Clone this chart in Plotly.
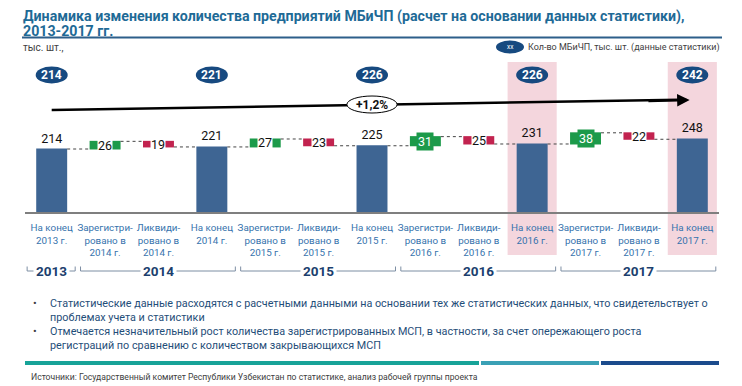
import plotly.graph_objects as go

# ---------------- data ----------------
categories = [
    "На конец<br>2013 г.", "Зарегистри-<br>ровано в<br>2014 г.", "Ликвиди-<br>ровано в<br>2014 г.",
    "На конец<br>2014 г.", "Зарегистри-<br>ровано в<br>2015 г.", "Ликвиди-<br>ровано в<br>2015 г.",
    "На конец<br>2015 г.", "Зарегистри-<br>ровано в<br>2016 г.", "Ликвиди-<br>ровано в<br>2016 г.",
    "На конец<br>2016 г.", "Зарегистри-<br>ровано в<br>2017 г.", "Ликвиди-<br>ровано в<br>2017 г.",
    "На конец<br>2017 г.",
]
values = [214, 26, -19, 221, 27, -23, 225, 31, -25, 231, 38, -22, 248]
measures = ["absolute", "relative", "relative"] * 4 + ["absolute"]
stat_idx = [0, 3, 6, 9, 12]              # categories with statistics bubbles
stat_values = [214, 221, 226, 226, 242]  # кол-во МБиЧП (данные статистики)
highlight_idx = [9, 12]
big_labels = [31, 38]                    # deltas shown in filled boxes
year_groups = [("2013", 0, 0), ("2014", 1, 3), ("2015", 4, 6), ("2016", 7, 9), ("2017", 10, 12)]
growth_label = "+1,2%"

title_lines = ["Динамика изменения количества предприятий МБиЧП (расчет на основании данных статистики),",
               "2013-2017 гг."]
unit_label = "тыс. шт.,"
legend_label = "Кол-во МБиЧП, тыс. шт. (данные статистики)"
bullets = [
    ["Статистические данные расходятся с расчетными данными на основании тех же статистических данных, что свидетельствует о",
     "проблемах учета и статистики"],
    ["Отмечается незначительный рост количества зарегистрированных МСП, в частности, за счет опережающего роста",
     "регистраций по сравнению с количеством закрывающихся МСП"],
]
source_text = "Источники: Государственный комитет Республики Узбекистан по статистике, анализ рабочей группы проекта"

# ---------------- styling / layout helpers ----------------
W, H = 742, 386
ML, MR, MT, MB = 25, 23, 60, 174
PW, PH = W - ML - MR, H - MT - MB
BLUE = "#3e6593"
GREEN = "#1c9a4a"
RED = "#c2234f"
NAVY = "#174a80"
LABEL_BLUE = "#3673ad"
TXT_DARK = "#1f4e79"
FONT = "Roboto"


def py(p):
    return (H - MB - p) / PH


def px(p):
    return (p - ML) / PW


text_labels = [str(v) if m == "absolute" else "" for v, m in zip(values, measures)]

fig = go.Figure(go.Waterfall(
    x=categories, y=values, measure=measures,
    text=text_labels, textposition="outside",
    textfont=dict(size=12.5, color="#111111", family=FONT),
    width=0.58,
    increasing=dict(marker=dict(color=GREEN)),
    decreasing=dict(marker=dict(color=RED)),
    totals=dict(marker=dict(color=BLUE)),
    connector=dict(mode="between", line=dict(color="#444444", width=1, dash="dot")),
    cliponaxis=False, hoverinfo="skip",
))

shapes = []
annotations = []


def note(x, y, text, size, color, xref="paper", yref="paper", xanchor="center", family=FONT, **kw):
    annotations.append(dict(x=x, y=y, xref=xref, yref=yref, text=text, showarrow=False,
                            xanchor=xanchor, yanchor="middle",
                            font=dict(size=size, color=color, family=family), **kw))


# highlight columns
for i in highlight_idx:
    shapes.append(dict(type="rect", xref="x", yref="paper", x0=i - 0.46, x1=i + 0.46,
                       y0=py(255), y1=py(62), fillcolor="#f4d6dd", line=dict(width=0), layer="below"))

# delta labels
level = 0
for i, (v, m) in enumerate(zip(values, measures)):
    if m == "absolute":
        level = v
        continue
    mid = level + v / 2
    level += v
    big = abs(v) in big_labels
    note(i, mid, str(abs(v)), 12.5, "white" if big else "#111111", xref="x", yref="y",
         bgcolor=GREEN if big else "white", borderpad=1 if big else 0)

# statistics bubbles
for i, sv in zip(stat_idx, stat_values):
    shapes.append(dict(type="circle", xref="x", yref="paper", x0=i - 0.3, x1=i + 0.3,
                       y0=py(83.5), y1=py(66.5), fillcolor=NAVY, line=dict(width=0)))
    note(i, py(75), f"<b>{sv}</b>", 12, "white", xref="x")

# growth arrow: line shape + arrowhead annotation, ellipse label on top
x_tail, x_tip = stat_idx[0], stat_idx[-1] - 0.05
y_tail, y_tip = py(110), py(100)
shapes.append(dict(type="line", xref="x", yref="paper", x0=x_tail, y0=y_tail, x1=x_tip - 0.2, y1=y_tip + 0.3 / 152,
                   line=dict(color="black", width=2.5)))
annotations.append(dict(x=x_tip, y=y_tip, xref="x", yref="paper", ax=x_tip - 0.8, axref="x",
                        ay=1, ayref="pixel", text="", showarrow=True, arrowhead=2,
                        arrowsize=1, arrowwidth=2.5, arrowcolor="black"))
mid_x = stat_idx[2]
shapes.append(dict(type="circle", xref="x", yref="paper", x0=mid_x - 0.47, x1=mid_x + 0.47,
                   y0=py(113), y1=py(96), fillcolor="white", line=dict(color="black", width=1)))
note(mid_x, py(104.5), f"<b>{growth_label}</b>", 12, "#111111", xref="x")

# year brackets
for name, i0, i1 in year_groups:
    xa, xb = i0 - 0.46, i1 + 0.44
    yl, yt = py(271), py(266.5)
    for seg in [(xa, yl, xb, yl), (xa, yl, xa, yt), (xb, yl, xb, yt)]:
        shapes.append(dict(type="line", xref="x", yref="paper", x0=seg[0], y0=seg[1],
                           x1=seg[2], y1=seg[3], line=dict(color="#7d8ea3", width=1)))
    note((i0 + i1) / 2, py(271), f"<b>{name}</b>", 13.5, "#1c3f6e", xref="x", bgcolor="white", borderpad=2)

# title
for k, line in enumerate(title_lines):
    note(px(21), py(16 + 15 * k), f"<b>{line}</b>", 14.2, "#1e6a96", xanchor="left")
shapes.append(dict(type="line", xref="paper", yref="paper", x0=px(22), x1=px(722), y0=py(37.5), y1=py(37.5),
                   line=dict(color="#2d5f8a", width=2)))

# unit and legend
note(px(21), py(47), unit_label, 10, "#404040", xanchor="left")
shapes.append(dict(type="circle", xref="paper", yref="paper", x0=px(496), x1=px(524), y0=py(53.5), y1=py(40.5),
                   fillcolor=NAVY, line=dict(width=0)))
note(px(510), py(47), "xx", 6.5, "white")
note(px(526), py(47), legend_label, 9, "#404040", xanchor="left")

# bullets
ys = [[303, 317], [331, 345]]
for lines, yy in zip(bullets, ys):
    note(px(35), py(yy[0]), "•", 11, "#404040")
    for line, y in zip(lines, yy):
        note(px(48), py(y), line, 10.8, TXT_DARK, xanchor="left")

# bottom decorative bars
for x0, x1, c in [(25, 479, "#17a398"), (481, 599, "#3aa0b5"), (601, 719, "#1b4b8c")]:
    shapes.append(dict(type="rect", xref="paper", yref="paper", x0=px(x0), x1=px(x1), y0=py(365), y1=py(361),
                       fillcolor=c, line=dict(width=0)))
note(px(29), py(377), source_text, 8.6, "#404040", xanchor="left")

fig.update_layout(
    width=W, height=H, margin=dict(l=ML, r=MR, t=MT, b=MB, autoexpand=False),
    paper_bgcolor="white", plot_bgcolor="rgba(0,0,0,0)",
    showlegend=False, shapes=shapes, annotations=annotations,
    font=dict(family=FONT),
    xaxis=dict(type="category", range=[-0.5, 12.5], showgrid=False, zeroline=False,
               showline=True, linecolor="#7f7f7f", linewidth=2, ticks="", tickangle=0,
               automargin=False, ticklabelstandoff=5,
               tickfont=dict(size=9.8, color=LABEL_BLUE, family=FONT), fixedrange=True),
    yaxis=dict(range=[0, PH / 0.2944], visible=False, fixedrange=True, automargin=False),
)

fig.write_html("out.html", config={"displayModeBar": False},
               post_script="document.body.style.margin='0';")
